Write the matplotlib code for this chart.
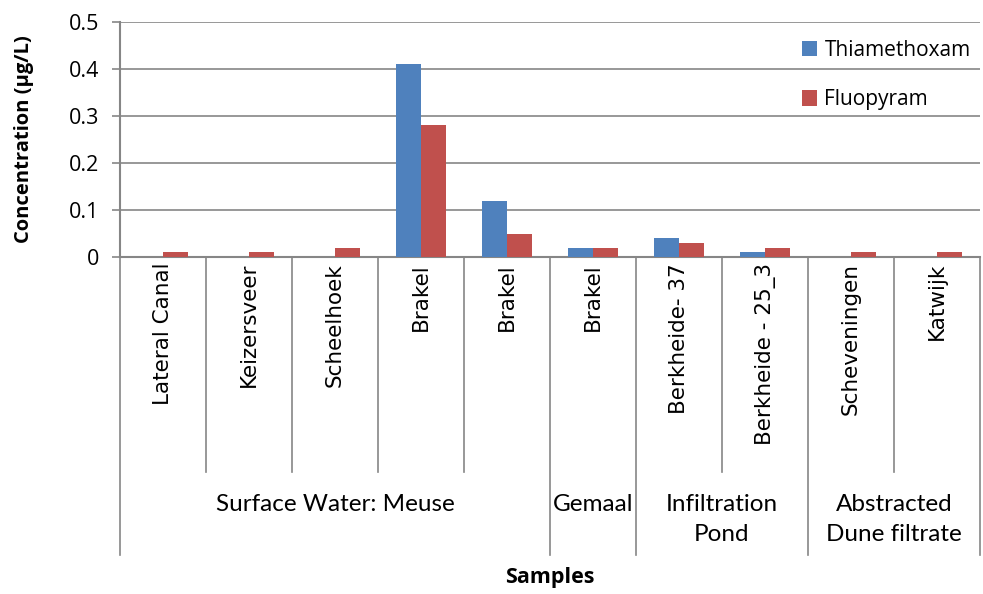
import numpy as np
import matplotlib.pyplot as plt
from matplotlib.transforms import blended_transform_factory

# Donnees
samples = ["Lateral Canal", "Keizersveer", "Scheelhoek", "Brakel", "Brakel",
           "Brakel", "Berkheide- 37", "Berkheide - 25_3", "Scheveningen", "Katwijk"]
thiamethoxam = [0, 0, 0, 0.41, 0.12, 0.02, 0.04, 0.01, 0, 0]
fluopyram = [0.01, 0.01, 0.02, 0.28, 0.05, 0.02, 0.03, 0.02, 0.01, 0.01]
groups = ["Surface Water: Meuse", "Gemaal", "Infiltration\nPond", "Abstracted\nDune filtrate"]
group_sizes = [5, 1, 2, 2]

blue = "#4F81BD"
red = "#C0504D"
grey = "#868686"

fig = plt.figure(figsize=(9.83, 5.94), dpi=100)
ax = fig.add_axes([120/983, 1-257/594, 860/983, 235/594])

x = np.arange(len(samples))
w = 0.285
ax.bar(x - w/2, thiamethoxam, w, color=blue, label="Thiamethoxam", zorder=3)
ax.bar(x + w/2, fluopyram, w, color=red, label="Fluopyram", zorder=3)

ax.set_xlim(-0.5, len(samples) - 0.5)
ax.set_ylim(0, 0.5)
ax.set_yticks(np.arange(0, 0.51, 0.1))
ax.set_yticklabels(["0", "0.1", "0.2", "0.3", "0.4", "0.5"], fontsize=15.5, family="Open Sans")
ax.yaxis.grid(True, color=grey, linewidth=1.2, zorder=0)
ax.set_xticks([])
ax.tick_params(axis="y", length=6, color=grey, width=1.2, pad=9)
for s in ["top", "right"]:
    ax.spines[s].set_visible(False)
ax.spines["left"].set_color(grey)
ax.spines["left"].set_linewidth(1.5)
ax.spines["bottom"].set_color(grey)
ax.spines["bottom"].set_linewidth(1.5)

ax.set_ylabel("Concentration (µg/L)", fontsize=14.5, fontweight="bold", family="Open Sans")
ax.yaxis.set_label_coords(-86/860, 0.5)

# table des categories sous l'axe
tr = blended_transform_factory(ax.transData, fig.transFigure)
y0 = 1 - 257/594
y1 = 1 - 472/594
y2 = 1 - 555/594
bounds = np.cumsum([0] + group_sizes)
for i in range(len(samples) + 1):
    xb = i - 0.5
    yb = y2 if i in bounds else y1
    ax.plot([xb, xb], [y0, yb], color=grey, linewidth=1.2, transform=tr, clip_on=False)

for i, s in enumerate(samples):
    ax.text(i, 1 - 263/594, s, rotation=90, ha="center", va="top", fontsize=15.5,
            family="DejaVu Sans", transform=tr)

for g, a, b in zip(groups, bounds[:-1], bounds[1:]):
    ax.text((a + b - 1) / 2, 1 - 494/594, g, ha="center", va="top", fontsize=17.5,
            family="Lato", transform=tr, linespacing=1.55)

fig.text((120 + 980) / 2 / 983, 1 - 577/594, "Samples", ha="center", va="center",
         fontsize=15.5, fontweight="bold", family="Open Sans")

ax.legend(loc="upper left", bbox_to_anchor=(667/860, 0.985), frameon=False,
          handlelength=0.75, handleheight=0.75, labelspacing=1.35, handletextpad=0.35,
          borderaxespad=0.3, prop={"family": "Open Sans", "size": 15})

fig.savefig("out.png", dpi=100)
